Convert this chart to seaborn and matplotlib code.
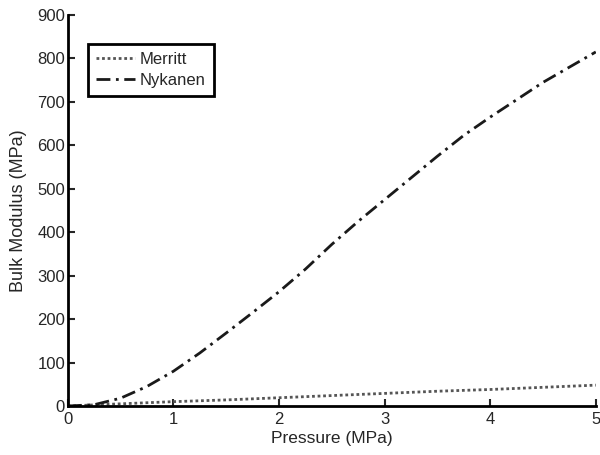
import numpy as np
import pandas as pd
import matplotlib
matplotlib.use("Agg")
import matplotlib.pyplot as plt
import seaborn as sns

# Data
pressure_nyk = [0.0, 0.25, 0.5, 0.75, 1.0, 1.25, 1.5, 1.75, 2.0, 2.25, 2.5,
                2.75, 3.0, 3.25, 3.5, 3.75, 4.0, 4.25, 4.5, 4.75, 5.0]
modulus_nyk = [0, 3, 18, 45, 80, 122, 168, 215, 263, 315, 372,
               425, 475, 525, 575, 623, 665, 705, 745, 780, 815]
pressure_mer = [0.0, 0.5, 1.0, 1.5, 2.0, 2.5, 3.0, 3.5, 4.0, 4.5, 5.0]
modulus_mer = [0, 5, 10, 14, 19, 24, 29, 34, 38, 43, 48]
series_names = ["Merritt", "Nykanen"]
x_ticks = [0, 1, 2, 3, 4, 5]
y_ticks = [0, 100, 200, 300, 400, 500, 600, 700, 800, 900]

sns.set_style("ticks")
plt.rcParams["font.family"] = ["Liberation Sans", "DejaVu Sans"]

df_mer = pd.DataFrame({"Pressure": pressure_mer, "Modulus": modulus_mer})
df_nyk = pd.DataFrame({"Pressure": pressure_nyk, "Modulus": modulus_nyk})

fig = plt.figure(figsize=(6.0, 4.55), dpi=100)
ax = fig.add_axes([0.113, 0.1077, 0.88, 0.8593])

sns.lineplot(data=df_mer, x="Pressure", y="Modulus", ax=ax, color="#555555",
             linestyle=(0, (1, 1)), linewidth=2, label=series_names[0])
sns.lineplot(data=df_nyk, x="Pressure", y="Modulus", ax=ax, color="#1a1a1a",
             linestyle=(0, (5, 2, 1, 2)), linewidth=2, label=series_names[1])

ax.set_xlim(0, 5)
ax.set_ylim(0, 900)
ax.set_xticks(x_ticks)
ax.set_yticks(y_ticks)
ax.set_xlabel("Pressure (MPa)", fontsize=12.5, labelpad=3)
ax.set_ylabel("Bulk Modulus (MPa)", fontsize=13, labelpad=7)
ax.tick_params(direction="in", length=5, width=1.5, labelsize=12)
ax.tick_params(axis="x", pad=4)
ax.tick_params(axis="y", pad=2)
for s in ["top", "right"]:
    ax.spines[s].set_visible(False)
for s in ["left", "bottom"]:
    ax.spines[s].set_linewidth(2)
    ax.spines[s].set_color("black")

leg = ax.legend(loc="upper left", bbox_to_anchor=(0.038, 0.926), fancybox=False,
                framealpha=1, edgecolor="black", fontsize=12,
                handlelength=2.3, handletextpad=0.3, borderpad=0.5,
                labelspacing=0.35, borderaxespad=0)
leg.get_frame().set_linewidth(2)

fig.savefig("out.png", dpi=100)
